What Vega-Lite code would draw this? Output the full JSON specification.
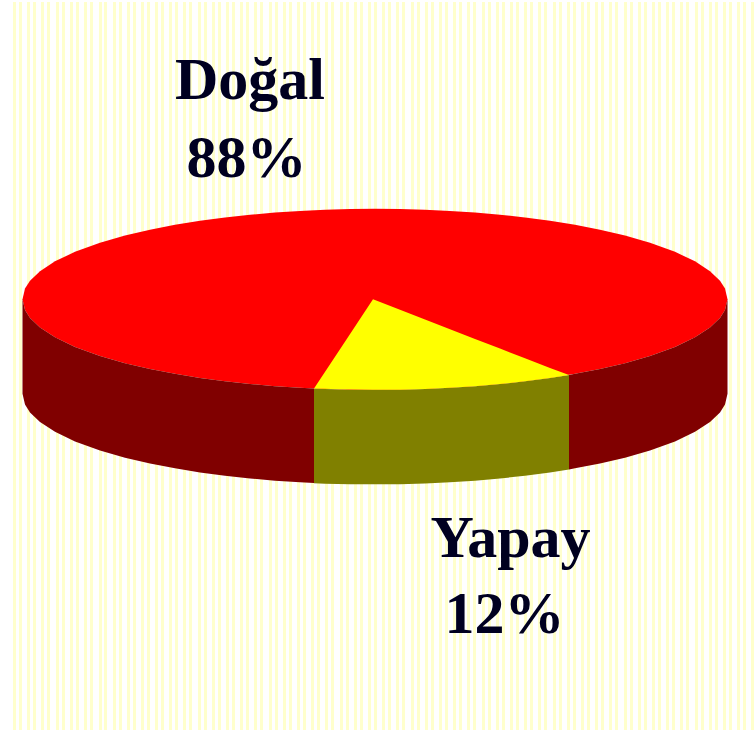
{"$schema":"https://vega.github.io/schema/vega-lite/v6.json","autosize":{"type":"fit","contains":"padding"},"width":755,"height":730,"padding":0,"background":"#ffffff","view":{"stroke":null},
"config":{"axis":{"domain":false,"grid":false,"ticks":false,"labels":false,"title":null}},
"datasets":{
"stripes":[{"x":14.5},{"x":20.5},{"x":28.5},{"x":34.5},{"x":42.5},{"x":48.5},{"x":57.5},{"x":63.5},{"x":71.5},{"x":77.5},{"x":85.5},{"x":91.5},{"x":100.5},{"x":105.5},{"x":114.5},{"x":120.5},{"x":128.5},{"x":134.5},{"x":142.5},{"x":148.5},{"x":156.5},{"x":162.5},{"x":170.5},{"x":176.5},{"x":184.5},{"x":190.5},{"x":199.5},{"x":205.5},{"x":213.5},{"x":219.5},{"x":227.5},{"x":233.5},{"x":241.5},{"x":247.5},{"x":255.5},{"x":261.5},{"x":270.5},{"x":276.5},{"x":284.5},{"x":290.5},{"x":298.5},{"x":304.5},{"x":312.5},{"x":318.5},{"x":326.5},{"x":332.5},{"x":341.5},{"x":347.5},{"x":355.5},{"x":361.5},{"x":369.5},{"x":375.5},{"x":383.5},{"x":389.5},{"x":397.5},{"x":403.5},{"x":412.5},{"x":418.5},{"x":426.5},{"x":432.5},{"x":440.5},{"x":446.5},{"x":454.5},{"x":460.5},{"x":468.5},{"x":474.5},{"x":483.5},{"x":489.5},{"x":497.5},{"x":503.5},{"x":511.5},{"x":517.5},{"x":525.5},{"x":531.5},{"x":539.5},{"x":545.5},{"x":554.5},{"x":560.5},{"x":568.5},{"x":574.5},{"x":582.5},{"x":588.5},{"x":596.5},{"x":602.5},{"x":610.5},{"x":616.5},{"x":625.5},{"x":631.5},{"x":639.5},{"x":645.5},{"x":653.5},{"x":659.5},{"x":667.5},{"x":673.5},{"x":681.5},{"x":687.5},{"x":696.5},{"x":702.5},{"x":710.5},{"x":716.5},{"x":724.5},{"x":730.5},{"x":738.5},{"x":744.5},{"x":752.5}],
"top":[{"x":22.5,"y":299,"y2":299},{"x":25,"y":288.2,"y2":309.8},{"x":30,"y":280.3,"y2":317.7},{"x":40,"y":270.7,"y2":327.3},{"x":55,"y":260.8,"y2":337.2},{"x":75,"y":251.2,"y2":346.8},{"x":100,"y":242.1,"y2":355.9},{"x":125,"y":234.8,"y2":363.2},{"x":150,"y":229,"y2":369},{"x":175,"y":224.1,"y2":373.9},{"x":200,"y":220,"y2":378},{"x":225,"y":216.6,"y2":381.4},{"x":250,"y":213.9,"y2":384.1},{"x":275,"y":211.7,"y2":386.3},{"x":300,"y":210.1,"y2":387.9},{"x":325,"y":208.9,"y2":389.1},{"x":350,"y":208.2,"y2":389.8},{"x":375,"y":208,"y2":390},{"x":400,"y":208.2,"y2":389.8},{"x":425,"y":208.9,"y2":389.1},{"x":450,"y":210.1,"y2":387.9},{"x":475,"y":211.7,"y2":386.3},{"x":500,"y":213.9,"y2":384.1},{"x":525,"y":216.6,"y2":381.4},{"x":550,"y":220,"y2":378},{"x":575,"y":224.1,"y2":373.9},{"x":600,"y":229,"y2":369},{"x":625,"y":234.8,"y2":363.2},{"x":650,"y":242.1,"y2":355.9},{"x":675,"y":251.2,"y2":346.8},{"x":695,"y":260.8,"y2":337.2},{"x":710,"y":270.7,"y2":327.3},{"x":720,"y":280.3,"y2":317.7},{"x":725,"y":288.2,"y2":309.8},{"x":727.5,"y":299,"y2":299}],
"wallDark":[{"p":"a","x":22.5,"y":299,"y2":394},{"p":"a","x":25,"y":309.8,"y2":404.8},{"p":"a","x":30,"y":317.7,"y2":412.7},{"p":"a","x":40,"y":327.3,"y2":422.3},{"p":"a","x":55,"y":337.2,"y2":432.2},{"p":"a","x":75,"y":346.8,"y2":441.8},{"p":"a","x":100,"y":355.9,"y2":450.9},{"p":"a","x":125,"y":363.2,"y2":458.2},{"p":"a","x":150,"y":369,"y2":464},{"p":"a","x":175,"y":373.9,"y2":468.9},{"p":"a","x":200,"y":378,"y2":473},{"p":"a","x":225,"y":381.4,"y2":476.4},{"p":"a","x":250,"y":384.1,"y2":479.1},{"p":"a","x":275,"y":386.3,"y2":481.3},{"p":"a","x":300,"y":387.9,"y2":482.9},{"p":"a","x":314,"y":388.6,"y2":483.6},{"p":"b","x":569,"y":375,"y2":470},{"p":"b","x":575,"y":373.9,"y2":468.9},{"p":"b","x":600,"y":369,"y2":464},{"p":"b","x":625,"y":363.2,"y2":458.2},{"p":"b","x":650,"y":355.9,"y2":450.9},{"p":"b","x":675,"y":346.8,"y2":441.8},{"p":"b","x":695,"y":337.2,"y2":432.2},{"p":"b","x":710,"y":327.3,"y2":422.3},{"p":"b","x":720,"y":317.7,"y2":412.7},{"p":"b","x":725,"y":309.8,"y2":404.8},{"p":"b","x":727.5,"y":299,"y2":394}],
"wallOlive":[{"x":314,"y":388.6,"y2":484},{"x":325,"y":389.1,"y2":484.3},{"x":350,"y":389.8,"y2":484.8},{"x":375,"y":390,"y2":485},{"x":400,"y":389.8,"y2":484.8},{"x":425,"y":389.1,"y2":484.1},{"x":450,"y":387.9,"y2":482.9},{"x":475,"y":386.3,"y2":481.3},{"x":500,"y":384.1,"y2":479.1},{"x":525,"y":381.4,"y2":476.4},{"x":550,"y":378,"y2":473},{"x":569,"y":375,"y2":470}],
"wedge":[{"x":314,"y":388.6,"y2":388.6},{"x":340,"y":349.1,"y2":389.5},{"x":373,"y":299,"y2":390},{"x":400,"y":309.5,"y2":389.8},{"x":425,"y":319.3,"y2":389.1},{"x":450,"y":329,"y2":387.9},{"x":475,"y":338.8,"y2":386.3},{"x":500,"y":348.5,"y2":384.1},{"x":525,"y":358.3,"y2":381.4},{"x":550,"y":368,"y2":378},{"x":569,"y":375,"y2":375}],
"labels":[{"x":250,"y":98,"t":"Doğal"},{"x":246.5,"y":176,"t":"88%"},{"x":510.5,"y":558,"t":"Yapay"},{"x":504.5,"y":634,"t":"12%"}]},
"encoding":{"x":{"field":"x","type":"quantitative","scale":{"domain":[0,755],"nice":false,"zero":false},"axis":null},"y":{"field":"y","type":"quantitative","scale":{"domain":[730,0],"nice":false,"zero":false},"axis":null}},
"layer":[
{"data":{"name":"stripes"},"mark":{"type":"rule","stroke":"#ffffcc","strokeWidth":3},"encoding":{"y":{"value":0},"y2":{"value":730}}},
{"data":{"name":"top"},"mark":{"type":"area","fill":"#ff0000","orient":"vertical"},"encoding":{"y2":{"field":"y2"}}},
{"data":{"name":"wallDark"},"mark":{"type":"area","fill":"#800000","orient":"vertical"},"encoding":{"y2":{"field":"y2"},"detail":{"field":"p"}}},
{"data":{"name":"wallOlive"},"mark":{"type":"area","fill":"#808000","orient":"vertical"},"encoding":{"y2":{"field":"y2"}}},
{"data":{"name":"wedge"},"mark":{"type":"area","fill":"#ffff00","orient":"vertical"},"encoding":{"y2":{"field":"y2"}}},
{"data":{"name":"labels"},"mark":{"type":"text","font":"Liberation Serif","fontWeight":"bold","fontSize":60,"fill":"#000020","align":"center","baseline":"alphabetic"},"encoding":{"text":{"field":"t"}}}
]}
